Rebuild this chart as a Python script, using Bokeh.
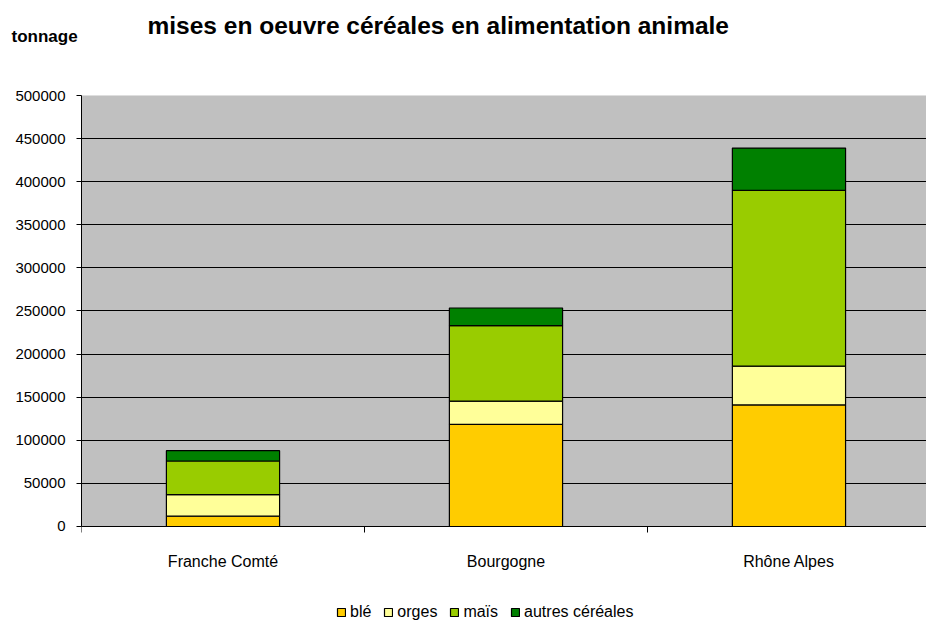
from bokeh.plotting import figure
from bokeh.models import (Range1d, FixedTicker, Legend, LegendItem, Title, BoxAnnotation,
                          ColumnDataSource, NumeralTickFormatter)
from bokeh.embed import file_html
from bokeh.resources import INLINE

# ---- data ----
categories = ["Franche Comté", "Bourgogne", "Rhône Alpes"]
series_names = ["blé", "orges", "maïs", "autres céréales"]
ble = [12000, 118500, 141000]
orges = [25000, 27000, 45000]
mais = [39000, 87500, 204000]
autres = [12000, 20500, 49000]
y_ticks = [0, 50000, 100000, 150000, 200000, 250000, 300000, 350000, 400000, 450000, 500000]
y_max = 500000

colors = ["#FFCC00", "#FFFF99", "#99CC00", "#008000"]
FONT = "Liberation Sans"

keys = ["ble", "orges", "mais", "autres"]
centers = [i + 0.5 for i in range(len(categories))]
source = ColumnDataSource(dict(x=centers, ble=ble, orges=orges, mais=mais, autres=autres))

# frame runs down to the bottom of the canvas so that the legend sits inside it;
# value 0 stays at the same height as the reference's axis line
p = figure(width=926, height=630, output_backend="svg", toolbar_location=None,
           title=None, x_range=Range1d(0, 2.986), y_range=Range1d(-120650, y_max),
           min_border_left=81, min_border_right=0, min_border_top=95, min_border_bottom=0)

p.background_fill_color = "white"
p.border_fill_color = "white"
p.outline_line_color = None

# grey plot area
p.add_layout(BoxAnnotation(bottom=0, top=y_max, fill_color="#C0C0C0", fill_alpha=1,
                           line_color="#808080", line_width=1, level="image"))

renderers = p.vbar_stack(keys, x="x", width=0.4, source=source,
                         fill_color=colors, line_color="black", line_width=1.2)

# y axis
p.yaxis.ticker = FixedTicker(ticks=y_ticks)
p.yaxis.bounds = (0, y_max)
p.yaxis.formatter = NumeralTickFormatter(format="0")
p.yaxis.major_label_text_font = FONT
p.yaxis.major_label_text_font_size = "15px"
p.yaxis.major_label_text_color = "black"
p.yaxis.major_tick_out = 5
p.yaxis.major_tick_in = 0
p.yaxis.minor_tick_line_color = None
p.yaxis.axis_line_color = "black"
p.yaxis.major_tick_line_color = "black"
p.yaxis.major_label_standoff = 11

# x axis at value 0: labels at centres, tick marks at category boundaries
p.xaxis.fixed_location = 0
p.xaxis.ticker = FixedTicker(ticks=centers, minor_ticks=[0, 1, 2, 3])
p.xaxis.major_label_overrides = {c: lab for c, lab in zip(centers, categories)}
p.xaxis.major_tick_line_color = None
p.xaxis.major_tick_out = 0
p.xaxis.major_tick_in = 0
p.xaxis.minor_tick_out = 6
p.xaxis.minor_tick_in = 0
p.xaxis.minor_tick_line_color = "black"
p.xaxis.axis_line_color = "black"
p.xaxis.major_label_text_font = FONT
p.xaxis.major_label_text_font_size = "16px"
p.xaxis.major_label_text_color = "black"
p.xaxis.major_label_standoff = 21

p.xgrid.grid_line_color = None
p.ygrid.ticker = FixedTicker(ticks=y_ticks)
p.ygrid.grid_line_color = "black"
p.ygrid.grid_line_width = 1

# "tonnage" unit label
p.add_layout(Title(text="tonnage", align="left", offset=-70, vertical_align="top",
                   standoff=-138, text_font=FONT, text_font_size="17px",
                   text_font_style="bold", text_color="black"), "above")

# main title
p.add_layout(Title(text="mises en oeuvre céréales en alimentation animale",
                   align="left", offset=66, vertical_align="top", standoff=-168,
                   text_font=FONT, text_font_size="24.5px", text_font_style="bold",
                   text_color="black"), "above")

# series legend at the bottom
legend = Legend(items=[LegendItem(label=n, renderers=[r]) for n, r in zip(series_names, renderers)],
                orientation="horizontal", location=(255, 8),
                glyph_width=10, glyph_height=10, label_standoff=4, spacing=12,
                padding=0, margin=0, border_line_color=None, background_fill_alpha=0,
                label_text_font=FONT, label_text_font_size="16px",
                label_text_color="black", label_height=20)
p.add_layout(legend, "center")

open("out.html", "w").write(file_html(p, INLINE))
